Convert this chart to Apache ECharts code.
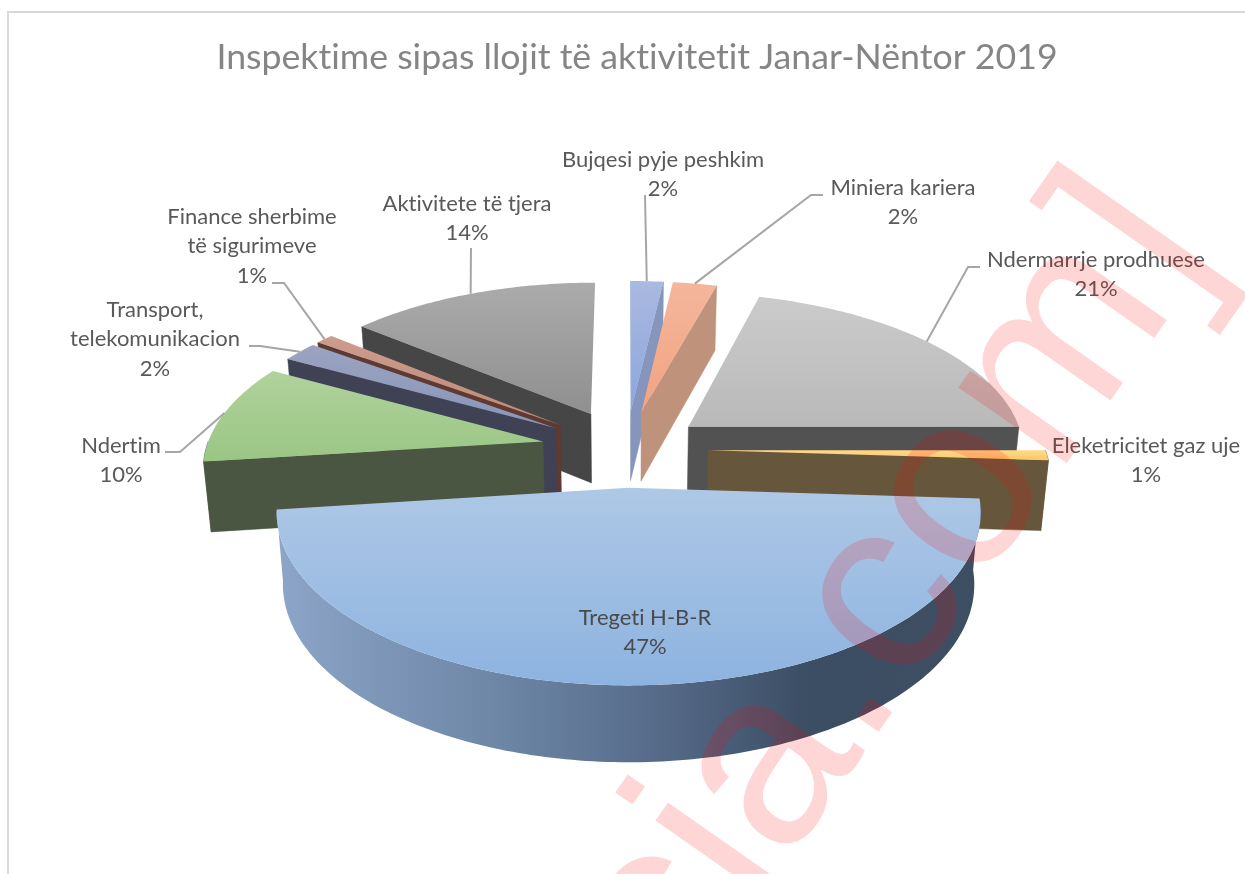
<!DOCTYPE html>
<html>
<head>
<meta charset="utf-8">
<style>html,body{margin:0;padding:0;background:#fff}#c{width:1245px;height:874px}</style>
<script src="https://cdn.jsdelivr.net/npm/echarts@6/dist/echarts.min.js"></script>
</head>
<body>
<div id="c"></div>
<script>
var titleText = 'Inspektime sipas llojit të aktivitetit Janar-Nëntor 2019';
var categories = ['Bujqesi pyje peshkim','Miniera kariera','Ndermarrje prodhuese','Eleketricitet gaz uje','Tregeti H-B-R','Ndertim','Transport,\ntelekomunikacion','Finance sherbime\ntë sigurimeve','Aktivitete të tjera'];
var values = [1.85,2.45,20.7,1,47,10,2,1,14];
var drawOrder = [8,7,6,5,0,1,2,3,4];
var explode = [82,82,80,82,80,85,85,85,85];
var topColors = [['#aab9e0','#8ca6dc'],['#f4b69c','#f2a37f'],['#cbcbcb','#b9b9b9'],['#ffd98a','#fdc765'],['#aec8e6','#8db3e0'],['#b0d29c','#9ac684'],['#9aa3c0','#8a95b8'],['#cc9c8c','#c08a78'],['#ababab','#8f8f8f']];
var wallColors = ['#8595bc','#bf927c','#525252','#66573c','#3e4e62','#4a5642','#3e4254','#5e3a32','#464646'];
var labelCenters = [[663,160],[903,188],[1096,260],[1146,446],[645,618],[121,446],[155,310],[252,217],[467,204]];
var leaderElbows = [[[645,195]],[[823,195],[811,195]],[[980,267],[968,267]],[],[],[[165,452],[180,452]],[[249,346],[260,346]],[[272,283],[284,283]],[[471,248]]];

var CX=626, CY=449, R=337, K=0.47, P=0.00041, DEPTH=70, SHRINK=0.982, LINE=29.4;
var total = values.reduce(function(a,b){return a+b},0);
var starts = []; values.reduce(function(a,v,i){starts[i]=a;return a+v},0);

function proj(X,Z){var s=1/(1-P*Z);return [CX+X*s,CY+Z*K*s,s];}
function down(p){return [CX+(p[0]-CX)*SHRINK,p[1]+DEPTH*Math.sqrt(p[2])];}
function ptAt(i,deg,r){
  var mid=(starts[i]+values[i]/2)/total*2*Math.PI,a=deg*Math.PI/180,e=explode[i];
  return proj(e*Math.sin(mid)+r*Math.sin(a),-e*Math.cos(mid)-r*Math.cos(a));
}
function arc(i,a0,a1){var pts=[],n=Math.max(2,Math.ceil(Math.abs(a1-a0)));for(var k=0;k<=n;k++)pts.push(ptAt(i,a0+(a1-a0)*k/n,R));return pts;}
function grad(c){return {type:'linear',x:0,y:0,x2:0,y2:1,colorStops:[{offset:0,color:c[0]},{offset:1,color:c[1]}]};}
var sideGrad={type:'linear',x:0,y:0,x2:1,y2:0,colorStops:[{offset:0,color:'#8ca5c8'},{offset:.3,color:'#6f88a8'},{offset:.55,color:'#556a88'},{offset:.75,color:'#3c4e64'},{offset:1,color:'#3e4e62'}]};
function xy(p){return [p[0],p[1]];}
function poly(points,fill,z2){return {type:'polygon',shape:{points:points},style:{fill:fill,stroke:fill.colorStops?null:fill,lineWidth:fill.colorStops?0:.5},z2:z2||0};}

function renderItem(params,api){
  var i=api.value(1),ch=[];
  var a0=starts[i]/total*360,a1=(starts[i]+values[i])/total*360;
  var tip=ptAt(i,0,0);
  var wall=wallColors[i];
  var s0=ptAt(i,a0,R),s1=ptAt(i,a1,R);
  if(Math.sin(a0*Math.PI/180)<0) ch.push(poly([xy(tip),xy(s0),down(s0),down(tip)],wall));
  if(Math.sin(a1*Math.PI/180)>0) ch.push(poly([xy(tip),xy(s1),down(s1),down(tip)],wall));
  var v0=Math.max(a0,90),v1=Math.min(a1,270);
  if(v1>v0){
    var top=arc(i,v0,v1);
    ch.push(poly(top.map(xy).concat(top.map(down).reverse()),i===4?sideGrad:wall));
  }
  ch.push(poly([xy(tip)].concat(arc(i,a0,a1).map(xy)),grad(topColors[i])));
  var elbows=leaderElbows[i];
  if(elbows.length){
    var end=ptAt(i,(a0+a1)/2,R);
    ch.push({type:'polyline',shape:{points:elbows.concat([xy(end)])},style:{stroke:'#a6a6a6',lineWidth:2,fill:null},z2:5});
  }
  var lines=categories[i].split('\n').concat([Math.round(api.value(0))+'%']);
  lines.forEach(function(t,k){
    ch.push({type:'text',x:labelCenters[i][0],y:labelCenters[i][1]+k*LINE,z2:10,
      style:{text:t,fill:i===4?'#4a4a4a':'#595959',font:'22px Lato',align:'center',verticalAlign:'middle'}});
  });
  return {type:'group',children:ch};
}

/* Lato's ti/tt ligatures are absent from the reference's typeface */
var origGetContext=HTMLCanvasElement.prototype.getContext;
HTMLCanvasElement.prototype.getContext=function(){var c=origGetContext.apply(this,arguments);if(c&&c.textRendering!==undefined)c.textRendering='optimizeSpeed';return c;};

var chart=echarts.init(document.getElementById('c'),null,{renderer:'canvas'});
chart.setOption({
  animation:false,backgroundColor:'#fff',
  title:{text:titleText,left:632,top:34,textAlign:'center',textStyle:{fontFamily:'Lato',fontWeight:400,fontSize:35.7,color:'#858585'}},
  graphic:[
    {type:'rect',shape:{x:8,y:12,width:1400,height:1000},style:{fill:null,stroke:'#d9d9d9',lineWidth:2},z:0,silent:true},
    {type:'text',x:1262,y:282,rotation:55*Math.PI/180,z:100,silent:true,
      style:{text:'cia.com]',font:'250px "Liberation Sans"',fill:'rgba(255,0,0,0.16)',align:'right',verticalAlign:'bottom'}}
  ],
  series:[{type:'custom',coordinateSystem:'none',renderItem:renderItem,silent:true,
    data:drawOrder.map(function(i){return [values[i],i];})}]
});
</script>
</body>
</html>
